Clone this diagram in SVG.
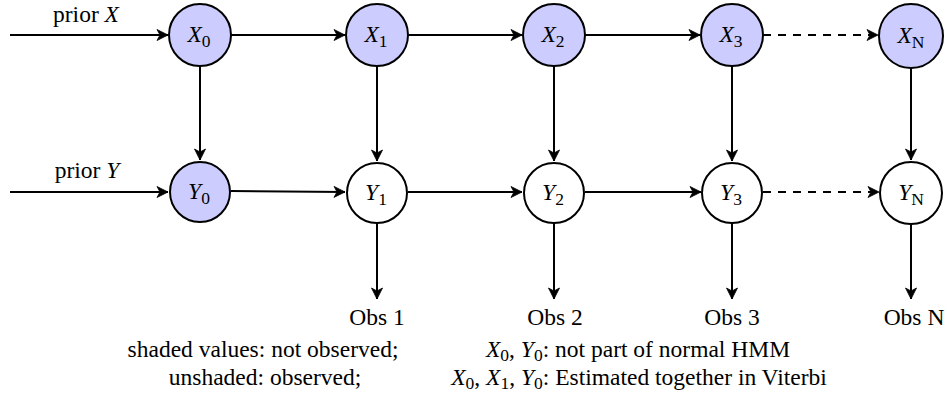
<svg xmlns="http://www.w3.org/2000/svg" width="947" height="398" viewBox="0 0 947 398">
<style>
text{font-family:'Liberation Serif','Times New Roman','DejaVu Serif',serif;font-size:23.5px;fill:#000}
.m{font-style:italic}
.s{font-size:17.5px;font-style:normal}
.node circle{stroke:#000;stroke-width:2}
.h{fill:#ccccff}
.o{fill:#fff}
.lbl{text-anchor:middle}
#edges path{fill:none;stroke:#000;stroke-width:2;marker-end:url(#ah)}
#edges .d{stroke-dasharray:8 7}
</style>
<defs>
<marker id="ah" markerUnits="userSpaceOnUse" markerWidth="14" markerHeight="14" viewBox="-12 -7 14 14" refX="0" refY="0" orient="auto">
<path d="M0,0 L-11,-5.5 L-8,0 L-11,5.5 Z" fill="#000" stroke="#000" stroke-width="0.8" stroke-linejoin="round"/>
</marker>
</defs>
<g id="edges">
<path d="M10,35 H168"/>
<path d="M231,35 H345"/>
<path d="M408,35 H522"/>
<path d="M585,35 H700"/>
<path class="d" d="M763,35 H878"/>
<path d="M10,192 H168"/>
<path d="M231,191 L345,192"/>
<path d="M408,192 H522"/>
<path d="M585,192 H701"/>
<path class="d" d="M763,192 H879"/>
<path d="M200,66 V160"/>
<path d="M377,66 V161"/>
<path d="M554,66 V161"/>
<path d="M732,66 V161"/>
<path d="M911,67 V160"/>
<path d="M377,223 V299"/>
<path d="M554,223 V299"/>
<path d="M732,223 V299"/>
<path d="M911,223 V299"/>
</g>
<g font-family="Liberation Serif, serif">
<g id="priorX"><text x="86" y="22" class="lbl">prior <tspan class="m">X</tspan></text></g>
<g id="priorY"><text x="87" y="178" class="lbl">prior <tspan class="m">Y</tspan></text></g>
<g id="X0" class="node"><circle class="h" cx="200" cy="35" r="31"/><text x="199" y="42" class="lbl"><tspan class="m">X</tspan><tspan class="s" dy="4.5">0</tspan></text></g>
<g id="X1" class="node"><circle class="h" cx="377" cy="35" r="31"/><text x="376" y="42" class="lbl"><tspan class="m">X</tspan><tspan class="s" dy="4.5">1</tspan></text></g>
<g id="X2" class="node"><circle class="h" cx="554" cy="35" r="31"/><text x="553" y="42" class="lbl"><tspan class="m">X</tspan><tspan class="s" dy="4.5">2</tspan></text></g>
<g id="X3" class="node"><circle class="h" cx="732" cy="35" r="31"/><text x="731" y="42" class="lbl"><tspan class="m">X</tspan><tspan class="s" dy="4.5">3</tspan></text></g>
<g id="XN" class="node"><circle class="h" cx="911" cy="36" r="32"/><text x="911" y="43" class="lbl"><tspan class="m">X</tspan><tspan class="s m" dy="4.5">N</tspan></text></g>
<g id="Y0" class="node"><circle class="h" cx="200" cy="192" r="30"/><text x="199" y="199" class="lbl"><tspan class="m">Y</tspan><tspan class="s" dy="4.5">0</tspan></text></g>
<g id="Y1" class="node"><circle class="o" cx="377" cy="193" r="30"/><text x="376" y="200" class="lbl"><tspan class="m">Y</tspan><tspan class="s" dy="4.5">1</tspan></text></g>
<g id="Y2" class="node"><circle class="o" cx="554" cy="193" r="30"/><text x="553" y="200" class="lbl"><tspan class="m">Y</tspan><tspan class="s" dy="4.5">2</tspan></text></g>
<g id="Y3" class="node"><circle class="o" cx="732" cy="193" r="30"/><text x="731" y="200" class="lbl"><tspan class="m">Y</tspan><tspan class="s" dy="4.5">3</tspan></text></g>
<g id="YN" class="node"><circle class="o" cx="911" cy="193" r="31"/><text x="911" y="200" class="lbl"><tspan class="m">Y</tspan><tspan class="s m" dy="4.5">N</tspan></text></g>
<g id="obs1"><text x="377" y="325" class="lbl">Obs 1</text></g>
<g id="obs2"><text x="555" y="325" class="lbl">Obs 2</text></g>
<g id="obs3"><text x="732" y="325" class="lbl">Obs 3</text></g>
<g id="obsN"><text x="914" y="325" class="lbl">Obs N</text></g>
<g id="legend">
<text x="263" y="357" class="lbl">shaded values: not observed;</text>
<text x="265" y="385" class="lbl">unshaded: observed;</text>
<text x="638" y="357" class="lbl"><tspan class="m">X</tspan><tspan class="s" dy="4">0</tspan><tspan dy="-4">, </tspan><tspan class="m">Y</tspan><tspan class="s" dy="4">0</tspan><tspan dy="-4">: not part of normal HMM</tspan></text>
<text x="639" y="385" class="lbl"><tspan class="m">X</tspan><tspan class="s" dy="4">0</tspan><tspan dy="-4">, </tspan><tspan class="m">X</tspan><tspan class="s" dy="4">1</tspan><tspan dy="-4">, </tspan><tspan class="m">Y</tspan><tspan class="s" dy="4">0</tspan><tspan dy="-4">: Estimated together in Viterbi</tspan></text>
</g>
</g>
</svg>
